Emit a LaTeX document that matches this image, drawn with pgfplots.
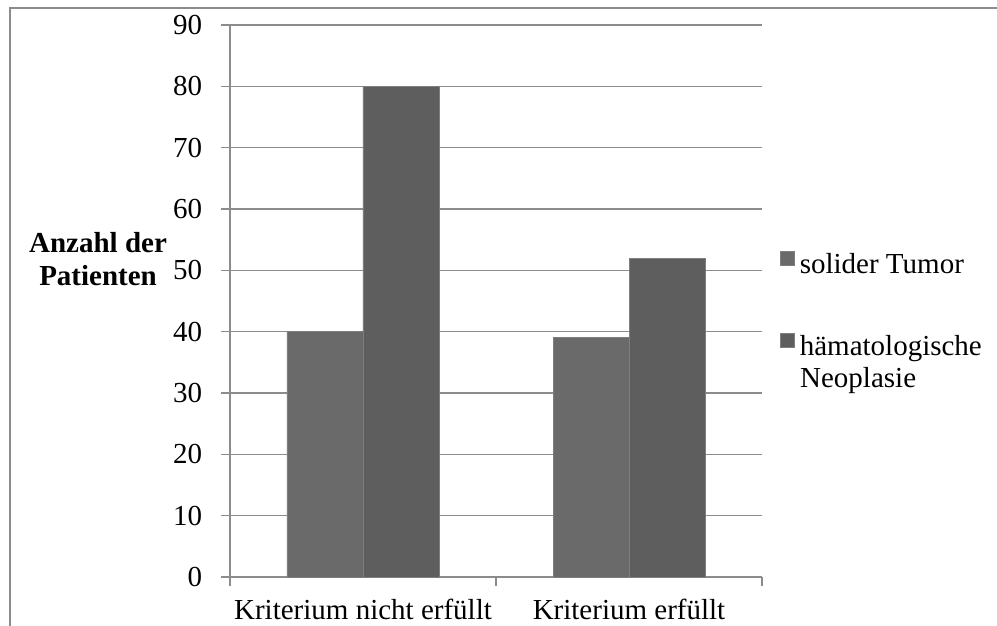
\documentclass[border=0pt]{standalone}
\usepackage{pgfplots}
\pgfplotsset{compat=1.18}
\usepackage{fontspec}
\setmainfont{Liberation Serif}

\definecolor{gridgray}{HTML}{8C8C8C}
\definecolor{barA}{HTML}{6A6A6A}
\definecolor{barB}{HTML}{5E5E5E}
\definecolor{barEdge}{HTML}{7E7E7E}

\begin{document}
\fontsize{29pt}{33pt}\selectfont
\begin{tikzpicture}
\path[use as bounding box] (0pt,0pt) rectangle (997pt,625pt);
% outer chart frame
\draw[gridgray, line width=1.5pt] (10pt,-5pt) -- (10pt,617pt) -- (1005pt,617pt);
\begin{axis}[
  at={(230pt,48pt)}, anchor=south west,
  scale only axis, width=532pt, height=552pt,
  clip=false,
  ybar=0pt, bar width=76pt,
  xmin=-0.5, xmax=1.5, ymin=0, ymax=90,
  xtick={-0.5,0.5,1.5}, xticklabels={,,},
  extra x ticks={0,1},
  extra x tick labels={Kriterium nicht erfüllt, Kriterium erfüllt},
  extra x tick style={major tick length=0pt, grid=none,
    tick label style={yshift=-12pt}},
  ytick={0,10,...,90},
  ytick pos=left, xtick pos=bottom,
  axis x line*=bottom, axis y line*=left,
  axis line style={gridgray, line width=1.5pt, -},
  tick style={gridgray, line width=1.5pt},
  major tick length=9pt,
  tick align=outside,
  ymajorgrids,
  major grid style={gridgray, line width=1.5pt},
  /pgf/number format/assume math mode=true,
  y tick label style={xshift=-9pt},
  ylabel={Anzahl der\\Patienten},
  ylabel style={rotate=-90, align=center, font=\bfseries,
    at={(rel axis cs:-0.248,0.576)}, anchor=center},
  legend image code/.code={\fill[#1] (0pt,0pt) rectangle (14pt,14pt);},
  legend style={draw=none, fill=none, inner sep=0pt, outer sep=0pt,
    at={(rel axis cs:1.034,0.59)}, anchor=north west,
    nodes={inner sep=0pt}, column sep=5pt, row sep=55pt},
  legend cell align=left,
]
\addplot[fill=barA, draw=barEdge, line width=0.75pt]
  coordinates {(0,40) (1,39)};
\addlegendentry{solider Tumor}
\addplot[fill=barB, draw=barEdge, line width=0.75pt]
  coordinates {(0,80) (1,52)};
\addlegendentry{hämatologische}
% second line of the second legend entry
\node[anchor=base west, inner sep=0pt] at (rel axis cs:1.0714,0.344) {Neoplasie};
\end{axis}
\end{tikzpicture}
\end{document}
